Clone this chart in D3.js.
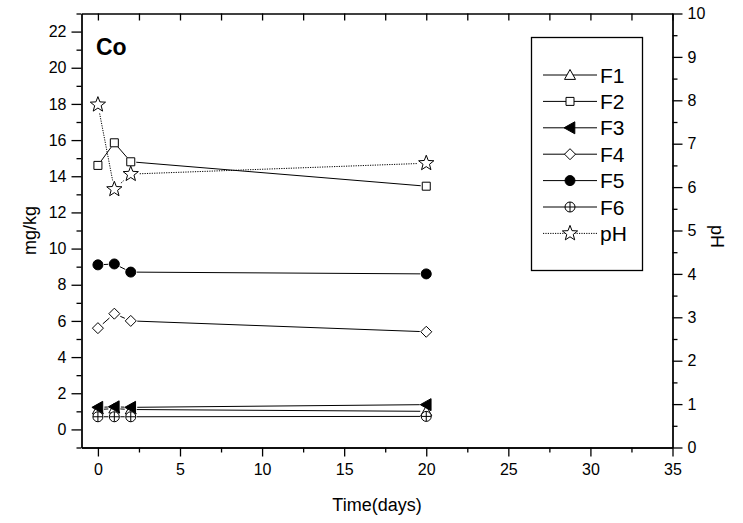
<!DOCTYPE html>
<html>
<head>
<meta charset="utf-8">
<script src="https://cdn.jsdelivr.net/npm/d3@7"></script>
<style>
  html, body { margin: 0; padding: 0; background: #fff; }
  svg { display: block; font-family: Arial, "Liberation Sans", sans-serif; }
</style>
</head>
<body>
<div id="chart"></div>
<script>
// Co fractions vs time, with pH on right axis
const days = [0, 1, 2, 20];
const F1 = [1.1, 1.15, 1.1, 1.0];
const F2 = [14.6, 15.85, 14.8, 13.45];
const F3 = [1.22, 1.25, 1.22, 1.37];
const F4 = [5.6, 6.4, 6.0, 5.4];
const F5 = [9.1, 9.15, 8.7, 8.6];
const F6 = [0.7, 0.7, 0.7, 0.72];
const pH = [7.9, 5.95, 6.3, 6.55];

const xTicks = [0, 5, 10, 15, 20, 25, 30, 35];
const yTicks = [0, 2, 4, 6, 8, 10, 12, 14, 16, 18, 20, 22];
const pHTicks = [0, 1, 2, 3, 4, 5, 6, 7, 8, 9, 10];

const W = 743, H = 523;
const L = 81.5, R = 672.5, T = 13.5, B = 447.5;

const svg = d3.select('#chart').append('svg')
  .attr('width', W).attr('height', H);

const x = d3.scaleLinear().domain([-1, 35]).range([L, R]);
const y = d3.scaleLinear().domain([-1, 23]).range([B, T]);
const yR = d3.scaleLinear().domain([0, 10]).range([B, T]);

// minor ticks first (short, no labels)
const minorX = d3.range(-0, 35.1, 2.5).filter(v => v % 5 !== 0);
const minorY = d3.range(-1, 23.1, 1).filter(v => v % 2 !== 0);
const minorR = d3.range(0.5, 10, 1);

function styleAxis(g) {
  g.select('.domain').attr('stroke', '#000').attr('stroke-width', 1.3);
  g.selectAll('.tick line').attr('stroke', '#000').attr('stroke-width', 1.3);
  g.selectAll('.tick text').attr('fill', '#000').style('font-size', '16px');
}

svg.append('g').attr('transform', `translate(0,${B})`)
  .call(d3.axisBottom(x).tickValues(minorX).tickSize(5).tickFormat('').tickSizeOuter(0))
  .call(styleAxis);
svg.append('g').attr('transform', `translate(0,${B})`)
  .call(d3.axisBottom(x).tickValues(xTicks).tickSize(9).tickPadding(7).tickSizeOuter(0))
  .call(styleAxis);

svg.append('g').attr('transform', `translate(0,${T})`)
  .call(d3.axisBottom(x).tickValues(xTicks.concat(minorX)).tickSize(7).tickFormat('').tickSizeOuter(0))
  .call(styleAxis);

svg.append('g').attr('transform', `translate(${L},0)`)
  .call(d3.axisLeft(y).tickValues(minorY).tickSize(5).tickFormat('').tickSizeOuter(0))
  .call(styleAxis);
svg.append('g').attr('transform', `translate(${L},0)`)
  .call(d3.axisLeft(y).tickValues(yTicks).tickSize(10).tickPadding(5).tickSizeOuter(0))
  .call(styleAxis);

svg.append('g').attr('transform', `translate(${R},0)`)
  .call(d3.axisRight(yR).tickValues(minorR).tickSize(5).tickFormat('').tickSizeOuter(0))
  .call(styleAxis);
svg.append('g').attr('transform', `translate(${R},0)`)
  .call(d3.axisRight(yR).tickValues(pHTicks).tickSize(10).tickPadding(5).tickSizeOuter(0))
  .call(styleAxis);

// axis titles
svg.append('text').attr('x', (L + R) / 2).attr('y', 511)
  .attr('text-anchor', 'middle').style('font-size', '18px').text('Time(days)');
svg.append('text').attr('transform', `translate(36,${(T + B) / 2}) rotate(-90)`)
  .attr('text-anchor', 'middle').style('font-size', '18px').text('mg/kg');
svg.append('text').attr('transform', `translate(711,${(T + B) / 2 + 6}) rotate(90)`)
  .attr('text-anchor', 'middle').style('font-size', '18px').text('pH');

svg.append('text').attr('x', 96).attr('y', 55)
  .style('font-size', '23px').style('font-weight', 'bold').text('Co');

// marker paths centred on 0,0
function markerPath(type) {
  switch (type) {
    case 'triUp': { const r = 5.5; return `M0,${-r}L${r},${r * 0.8}L${-r},${r * 0.8}Z`; }
    case 'triLeft': { const r = 6; return `M${-r},0L${r * 0.8},${-r}L${r * 0.8},${r}Z`; }
    case 'square': { const r = 4; return `M${-r},${-r}H${r}V${r}H${-r}Z`; }
    case 'diamond': { const r = 5.5; return `M0,${-r}L${r},0L0,${r}L${-r},0Z`; }
    case 'circle':
    case 'circlePlus': { const r = 5; return `M${r},0A${r},${r} 0 1,1 ${-r},0A${r},${r} 0 1,1 ${r},0Z`; }
    case 'star': {
      const pts = [];
      for (let i = 0; i < 10; i++) {
        const rr = i % 2 === 0 ? 8 : 3.4;
        const a = -Math.PI / 2 + i * Math.PI / 5;
        pts.push(`${(rr * Math.cos(a)).toFixed(2)},${(rr * Math.sin(a)).toFixed(2)}`);
      }
      return 'M' + pts.join('L') + 'Z';
    }
  }
}

const series = [
  { name: 'F1', vals: F1, scale: y, type: 'triUp', fill: '#fff', gap: 6, dash: null },
  { name: 'F2', vals: F2, scale: y, type: 'square', fill: '#fff', gap: 5.5, dash: null },
  { name: 'F3', vals: F3, scale: y, type: 'triLeft', fill: '#000', gap: 6.5, dash: null },
  { name: 'F4', vals: F4, scale: y, type: 'diamond', fill: '#fff', gap: 6.5, dash: null },
  { name: 'F5', vals: F5, scale: y, type: 'circle', fill: '#000', gap: 6, dash: null },
  { name: 'F6', vals: F6, scale: y, type: 'circlePlus', fill: '#fff', gap: 6, dash: null },
  { name: 'pH', vals: pH, scale: yR, type: 'star', fill: '#fff', gap: 9, dash: '1.2,1.2' }
];

function drawMarker(g, type, fill, cx, cy) {
  const m = g.append('g').attr('transform', `translate(${cx},${cy})`);
  m.append('path').attr('d', markerPath(type))
    .attr('fill', fill).attr('stroke', '#000').attr('stroke-width', 1);
  if (type === 'circlePlus') {
    m.append('path').attr('d', 'M-5,0H5M0,-5V5').attr('stroke', '#000').attr('stroke-width', 1);
  }
}

const plot = svg.append('g');
series.forEach(s => {
  const pts = days.map((d, i) => [x(d), s.scale(s.vals[i])]);
  // segments stop short of the symbols
  for (let i = 0; i < pts.length - 1; i++) {
    const [x1, y1] = pts[i], [x2, y2] = pts[i + 1];
    const len = Math.hypot(x2 - x1, y2 - y1);
    if (len <= 2 * s.gap) continue;
    const ux = (x2 - x1) / len, uy = (y2 - y1) / len;
    plot.append('line')
      .attr('x1', x1 + ux * s.gap).attr('y1', y1 + uy * s.gap)
      .attr('x2', x2 - ux * s.gap).attr('y2', y2 - uy * s.gap)
      .attr('stroke', '#000').attr('stroke-width', 1)
      .attr('stroke-dasharray', s.dash);
  }
  pts.forEach(p => drawMarker(plot, s.type, s.fill, p[0], p[1]));
});

// legend
const lg = svg.append('g');
lg.append('rect').attr('x', 531.5).attr('y', 37.5).attr('width', 111).attr('height', 233)
  .attr('fill', '#fff').attr('stroke', '#000').attr('stroke-width', 1.3);
series.forEach((s, i) => {
  const cy = 75 + i * 26.4;
  lg.append('line').attr('x1', 543).attr('x2', 597).attr('y1', cy).attr('y2', cy)
    .attr('stroke', '#000').attr('stroke-width', 1).attr('stroke-dasharray', s.dash);
  drawMarker(lg, s.type, s.fill, 570, cy);
  lg.append('text').attr('x', 600).attr('y', cy + 7.5)
    .style('font-size', '21px').text(s.name);
});
</script>
</body>
</html>
